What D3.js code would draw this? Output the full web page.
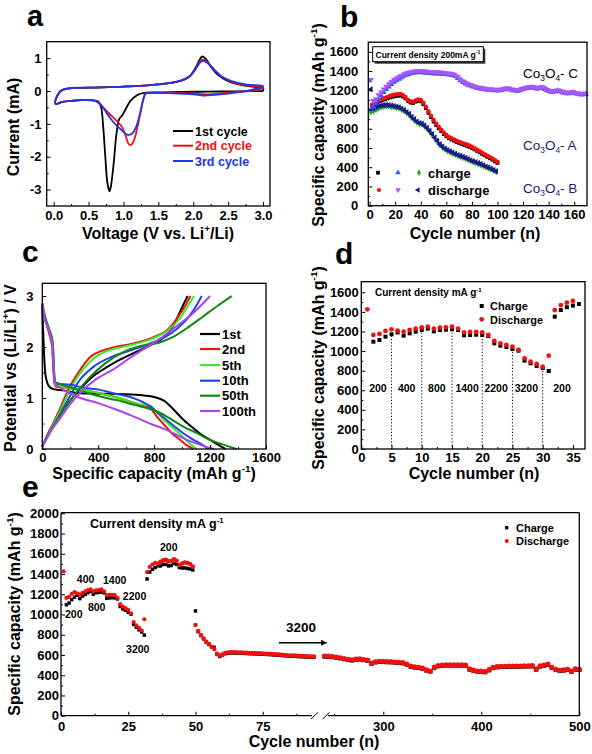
<!DOCTYPE html>
<html><head><meta charset="utf-8">
<script src="https://cdn.jsdelivr.net/npm/d3@7"></script>
<style>
body{margin:0;background:#fff}
svg{display:block;font-family:"Liberation Sans",Arial,Helvetica,sans-serif}
</style></head><body>
<svg id="c" width="592" height="754"></svg>
<script>
// ---------------- DATA ----------------
// Panel a: CV curves [V, I(mA)]
const aCycle1 = [[3.0,0.0],[2.6,-0.01],[2.2,-0.02],[1.8,-0.03],[1.5,-0.04],[1.3,-0.06],[1.2,-0.12],[1.1,-0.3],[1.02,-0.6],[0.98,-0.75],[0.94,-0.85],[0.9,-1.3],[0.86,-2.2],[0.82,-2.9],[0.8,-3.05],[0.77,-2.8],[0.74,-2.0],[0.71,-1.1],[0.68,-0.5],[0.64,-0.32],[0.55,-0.28],[0.4,-0.28],[0.25,-0.3],[0.12,-0.33],[0.03,-0.4],[0.02,-0.35],[0.05,-0.15],[0.1,0.0],[0.2,0.07],[0.5,0.1],[1.0,0.13],[1.5,0.2],[1.8,0.3],[1.95,0.45],[2.03,0.7],[2.1,0.98],[2.13,1.05],[2.18,0.98],[2.25,0.75],[2.35,0.5],[2.5,0.3],[2.7,0.18],[2.9,0.12],[3.0,0.1],[3.0,0.0]];
const aCycle2 = [[3.0,0.08],[2.8,0.0],[2.5,-0.05],[2.2,-0.1],[2.0,-0.08],[1.7,-0.06],[1.4,-0.05],[1.32,-0.06],[1.29,-0.2],[1.25,-0.6],[1.2,-1.1],[1.15,-1.5],[1.1,-1.65],[1.07,-1.6],[1.03,-1.35],[0.98,-1.1],[0.9,-0.9],[0.8,-0.7],[0.72,-0.52],[0.66,-0.38],[0.6,-0.3],[0.4,-0.28],[0.25,-0.3],[0.12,-0.33],[0.03,-0.4],[0.02,-0.35],[0.05,-0.15],[0.1,0.0],[0.2,0.07],[0.5,0.1],[1.0,0.13],[1.5,0.2],[1.8,0.3],[1.95,0.45],[2.03,0.68],[2.1,0.9],[2.14,0.95],[2.2,0.88],[2.3,0.65],[2.4,0.45],[2.55,0.28],[2.75,0.17],[3.0,0.12],[3.0,0.08]];
const aCycle3 = [[3.0,0.12],[2.8,0.02],[2.5,-0.08],[2.3,-0.12],[2.15,-0.14],[2.0,-0.1],[1.7,-0.07],[1.4,-0.06],[1.32,-0.08],[1.28,-0.3],[1.23,-0.75],[1.18,-1.1],[1.12,-1.3],[1.05,-1.33],[0.98,-1.2],[0.9,-1.05],[0.8,-0.8],[0.72,-0.55],[0.65,-0.38],[0.6,-0.3],[0.4,-0.28],[0.25,-0.3],[0.12,-0.33],[0.03,-0.4],[0.02,-0.35],[0.05,-0.15],[0.1,0.0],[0.2,0.08],[0.5,0.1],[1.0,0.13],[1.5,0.2],[1.8,0.3],[1.95,0.45],[2.03,0.65],[2.1,0.87],[2.14,0.92],[2.2,0.86],[2.3,0.65],[2.4,0.45],[2.55,0.3],[2.75,0.2],[3.0,0.15],[3.0,0.12]];
const aLegend = ["1st cycle","2nd cycle","3rd cycle"];

// Panel b: cycling of three samples
const bCyclesAB_A = d3.range(2, 101, 2);
const bA_discharge = [1050,1070,1085,1100,1110,1120,1130,1140,1150,1155,1160,1162,1150,1130,1100,1085,1080,1095,1105,1100,1070,1030,980,935,890,855,820,790,760,735,715,700,688,675,665,655,645,635,625,613,597,582,567,550,535,520,505,490,472,457];
const bA_charge = [1040,1060,1075,1088,1095,1105,1115,1125,1132,1138,1142,1145,1135,1115,1088,1072,1068,1082,1090,1085,1055,1015,965,920,875,840,805,775,745,722,702,688,676,663,652,642,632,622,612,600,585,570,555,538,523,508,493,478,460,445];
const bCycles_B = d3.range(1, 100, 2);
const bB_charge = [975,985,1000,1015,1025,1030,1035,1035,1030,1025,1020,1015,1000,985,965,945,915,890,865,850,845,825,800,770,735,700,665,630,605,585,570,555,543,532,520,510,500,490,478,465,455,445,435,425,412,400,390,378,365,352];
const bB_discharge = [1210,1010,1025,1035,1042,1046,1048,1046,1042,1036,1030,1024,1010,995,975,955,925,900,875,860,855,835,810,780,745,710,675,640,615,595,580,565,552,540,528,518,508,498,486,473,463,453,443,432,420,408,397,385,372,358];
const bCycles_C = d3.range(1, 170, 2);
const bC_discharge = [1310,1090,1110,1150,1180,1210,1240,1265,1290,1310,1325,1340,1355,1370,1380,1388,1393,1398,1400,1402,1400,1398,1395,1393,1390,1390,1388,1388,1385,1380,1378,1375,1370,1360,1340,1315,1295,1280,1265,1255,1245,1238,1230,1225,1220,1215,1212,1210,1208,1205,1205,1210,1215,1220,1218,1210,1205,1200,1205,1215,1225,1230,1235,1238,1232,1225,1230,1235,1220,1205,1195,1190,1195,1200,1195,1185,1180,1175,1180,1185,1175,1170,1165,1165,1168];
const bC_charge = [1000,1030,1065,1105,1145,1180,1210,1238,1262,1285,1302,1318,1334,1350,1362,1370,1377,1382,1385,1387,1385,1383,1380,1378,1375,1375,1373,1373,1370,1366,1364,1361,1356,1346,1326,1303,1284,1269,1255,1246,1236,1230,1222,1217,1212,1207,1204,1202,1200,1197,1197,1202,1207,1212,1210,1202,1197,1192,1197,1207,1217,1222,1227,1230,1224,1217,1222,1227,1212,1197,1187,1182,1187,1192,1187,1177,1172,1167,1172,1177,1167,1162,1157,1157,1160];

// Panel c: charge/discharge profiles [capacity, V]
const cNames = ["1st","2nd","5th","10th","50th","100th"];
const cDis = [
 [[0,2.85],[3,2.5],[7,2.25],[12,1.9],[19,1.55],[30,1.35],[43,1.25],[60,1.2],[90,1.17],[150,1.15],[250,1.1],[400,1.085],[550,1.08],[700,1.06],[800,1.02],[870,0.95],[930,0.8],[1000,0.6],[1070,0.43],[1130,0.3],[1200,0.18],[1260,0.08],[1310,0.0]],
 [[0,2.85],[20,2.55],[50,2.25],[70,2.0],[78,1.6],[85,1.3],[100,1.22],[200,1.2],[400,1.1],[550,1.0],[700,0.86],[770,0.8],[830,0.6],[880,0.45],[930,0.3],[985,0.18],[1030,0.08],[1080,0.0]],
 [[0,2.85],[20,2.58],[50,2.3],[72,2.05],[80,1.6],[88,1.3],[100,1.24],[200,1.2],[400,1.1],[550,1.0],[700,0.88],[770,0.85],[850,0.62],[920,0.45],[990,0.28],[1050,0.12],[1105,0.0]],
 [[0,2.8],[20,2.55],[50,2.3],[75,2.05],[82,1.6],[90,1.32],[100,1.28],[200,1.26],[300,1.2],[412,1.16],[500,1.1],[651,1.0],[770,0.84],[830,0.7],[889,0.57],[950,0.43],[1008,0.31],[1070,0.2],[1128,0.11],[1190,0.0]],
 [[0,2.85],[20,2.6],[50,2.35],[75,2.1],[83,1.6],[92,1.32],[120,1.28],[174,1.23],[300,1.12],[412,1.03],[530,0.96],[651,0.87],[818,0.74],[900,0.62],[1008,0.44],[1100,0.32],[1175,0.21],[1280,0.1],[1390,0.0]],
 [[0,2.85],[20,2.55],[50,2.3],[72,2.05],[78,1.7],[85,1.4],[95,1.28],[130,1.2],[245,1.03],[400,0.9],[532,0.77],[650,0.64],[770,0.5],[889,0.375],[1032,0.18],[1130,0.08],[1187,0.03],[1230,0.0]]
];
const cChg = [
 [[0,0.05],[55,0.38],[120,0.65],[174,0.86],[230,1.05],[293,1.24],[350,1.4],[412,1.52],[532,1.72],[651,1.88],[770,2.03],[850,2.15],[910,2.3],[961,2.55],[1000,2.78],[1030,2.95],[1040,3.0]],
 [[0,0.05],[60,0.4],[115,0.72],[198,1.23],[270,1.55],[341,1.8],[420,1.92],[508,1.99],[650,2.07],[800,2.2],[900,2.35],[960,2.55],[1020,2.8],[1060,3.0]],
 [[0,0.05],[60,0.38],[120,0.7],[205,1.2],[280,1.52],[360,1.76],[440,1.9],[520,1.97],[650,2.05],[800,2.18],[900,2.33],[980,2.55],[1040,2.8],[1085,3.0]],
 [[0,0.05],[70,0.4],[150,0.8],[270,1.36],[370,1.62],[508,1.82],[650,1.95],[780,2.08],[880,2.2],[960,2.35],[1050,2.6],[1110,2.85],[1140,3.0]],
 [[0,0.05],[80,0.45],[200,0.95],[330,1.38],[450,1.68],[580,1.9],[700,2.02],[850,2.1],[950,2.22],[1050,2.4],[1150,2.6],[1260,2.82],[1355,3.0]],
 [[0,0.05],[60,0.35],[127,0.6],[200,0.88],[270,1.1],[380,1.36],[508,1.56],[650,1.83],[818,2.12],[900,2.28],[980,2.45],[1060,2.62],[1130,2.8],[1200,3.0]]
];

// Panel d: rate test
const dChargeCycles = d3.range(2, 37);
const dCharge = [1096,1113,1147,1171,1190,1157,1181,1198,1215,1229,1201,1215,1218,1222,1215,1161,1164,1167,1164,1154,1079,1055,1042,1021,1004,902,875,848,827,796,1351,1419,1447,1464,1481];
const dDischargeCycles = d3.range(1, 36);
const dDischarge = [1426,1164,1174,1205,1222,1208,1198,1215,1229,1242,1249,1229,1239,1242,1249,1229,1191,1195,1195,1191,1164,1103,1079,1062,1045,1011,926,892,868,841,953,1419,1470,1494,1511];
const dDividerCycles = [5,10,15,20,25,30];
const dDividerTop = [1150,1200,1215,1155,1010,810];
const dRateLabels = ["200","400","800","1400","2200","3200","200"];
const dRateX = [2.75,7.5,12.5,17.5,22.3,27.3,33.2];

// Panel e: long-term cycling (first part reuses rate test d)
const eDisCyclesA = d3.range(36, 95);
const eDischargeA = [1505,1520,1535,1540,1525,1530,1545,1530,1490,1505,1515,1510,1500,1475,896,837,797,764,731,708,682,660,612,595,605,620,625,627,627,626,625,624,623,622,620,619,618,617,616,614,613,612,610,608,606,604,602,600,598,596,595,594,592,590,589,588,587,586,585];
const eChgCyclesA = d3.range(37, 95);
const eChargeA = [1480,1495,1495,1480,1485,1505,1495,1465,1460,1460,1455,1450,1440,1035,830,792,760,728,704,679,675,605,585,600,612,618,620,620,619,618,617,616,615,613,612,611,610,609,607,606,605,603,601,599,597,595,593,591,589,588,587,585,583,582,581,580,579,578];
const eCyclesB = d3.range(240, 501, 4);
const eDischargeB = [590,588,585,580,573,565,556,552,560,562,555,550,520,533,538,537,535,534,530,527,524,510,490,482,478,470,452,442,480,495,500,502,502,502,502,502,500,462,450,442,440,436,455,478,485,487,488,490,490,491,491,492,493,494,462,492,500,510,478,458,448,452,458,440,462,458];
const eChargeB = [584,582,579,574,567,559,550,546,554,556,549,544,514,527,532,531,529,528,524,521,518,504,484,476,472,464,446,436,474,489,494,496,496,496,496,496,494,456,444,436,434,430,449,472,479,481,482,484,484,485,485,486,487,488,456,486,494,504,472,452,442,446,452,434,456,452];
const eRateLabels = ["200","400","800","1400","2200","3200","200"];
const eRateX = [1.5,5.9,10,15.6,23,24.2,36.8];
const eRateY = [962,1311,1035,1301,1143,620,1627];

// ---------------- DRAWING ----------------
const svg = d3.select('#c');
const FF = '"Liberation Sans", Arial, Helvetica, sans-serif';

function rich(t, parts, fs) {
  let cur = 0;
  parts.forEach(([s, k]) => {
    const target = k === 'sup' ? -fs * 0.42 : k === 'sub' ? fs * 0.25 : 0;
    const ts = t.append('tspan').text(s);
    if (target - cur !== 0) ts.attr('dy', target - cur);
    if (k) ts.attr('font-size', fs * 0.62);
    cur = target;
  });
}
function txt(x, y, parts, o = {}) {
  const fs = o.size || 13;
  const t = svg.append('text').attr('x', x).attr('y', y)
    .attr('font-size', fs).attr('font-weight', o.weight || 'bold')
    .attr('fill', o.fill || '#000').attr('text-anchor', o.anchor || 'start');
  if (o.rotate) t.attr('transform', `rotate(-90,${x},${y})`);
  rich(t, typeof parts === 'string' ? [[parts]] : parts, fs);
  return t;
}
function frame(x0, x1, y0, y1) {
  svg.append('rect').attr('x', x0).attr('y', y0).attr('width', x1 - x0).attr('height', y1 - y0)
    .attr('fill', 'none').attr('stroke', '#000').attr('stroke-width', 1.3);
}
function axis(kind, scale, pos, major, minor, fmt, pad) {
  const gen = kind === 'b' ? d3.axisBottom : d3.axisLeft;
  const tr = kind === 'b' ? `translate(0,${pos})` : `translate(${pos},0)`;
  const g = svg.append('g').attr('transform', tr);
  g.call(gen(scale).tickValues(major).tickFormat(fmt).tickSizeInner(-4).tickSizeOuter(0).tickPadding(pad));
  g.select('.domain').remove();
  g.attr('font-family', FF).attr('font-size', 13).attr('font-weight', 'bold');
  if (minor) {
    const m = svg.append('g').attr('transform', tr);
    m.call(gen(scale).tickValues(minor).tickFormat(() => '').tickSizeInner(-2).tickSizeOuter(0));
    m.select('.domain').remove();
  }
}
const sym = (type, size) => d3.symbol().type(type).size(size)();
function scatter(xs, ys, xS, yS, type, size, color, rot = 0) {
  svg.append('g').selectAll('path').data(xs.map((x, i) => [x, ys[i]])).join('path')
    .attr('d', sym(type, size))
    .attr('transform', d => `translate(${xS(d[0])},${yS(d[1])}) rotate(${rot})`)
    .attr('fill', color);
}
const fmtPlain = d => String(d);

// ---- Panel a ----
{
  const x = d3.scaleLinear([-0.1, 3.1], [46.7, 270]);
  const y = d3.scaleLinear([-3.5, 1.5], [206, 41.7]);
  const line = d3.line().x(d => x(d[0])).y(d => y(d[1])).curve(d3.curveCatmullRom.alpha(0.5));
  const cols = ['#000000', '#ee1111', '#2233ee'];
  [aCycle1, aCycle2, aCycle3].forEach((c, i) =>
    svg.append('path').attr('d', line(c)).attr('fill', 'none').attr('stroke', cols[i]).attr('stroke-width', 1.8));
  frame(46.7, 270, 41.7, 206);
  axis('b', x, 206, [0, 0.5, 1, 1.5, 2, 2.5, 3], [0.25, 0.75, 1.25, 1.75, 2.25, 2.75], d3.format('.1f'), 4.3);
  axis('l', y, 46.7, [-3, -2, -1, 0, 1], [-2.5, -1.5, -0.5, 0.5], fmtPlain, 5.2);
  aLegend.forEach((s, i) => {
    const yy = [131, 145.7, 161][i];
    svg.append('line').attr('x1', 173).attr('x2', 193).attr('y1', yy).attr('y2', yy).attr('stroke', cols[i]).attr('stroke-width', 2);
    txt(195, yy + 4.5, s, { size: 12.5, fill: cols[i] });
  });
  txt(27, 26, 'a', { size: 29 });
  txt(18.5, 127, 'Current (mA)', { size: 16, rotate: true, anchor: 'middle' });
  txt(158, 238.5, [['Voltage (V vs. Li'], ['+', 'sup'], ['/Li)']], { size: 16, anchor: 'middle' });
}

// ---- Panel b ----
{
  const x = d3.scaleLinear([-1, 170], [368.3, 587]);
  const y = d3.scaleLinear([0, 1700], [205.7, 42.2]);
  scatter(bCyclesAB_A, bA_charge, x, y, d3.symbolSquare, 14, '#000');
  scatter(bCyclesAB_A, bA_discharge, x, y, d3.symbolCircle, 16, '#ee1111');
  scatter(bCycles_B, bB_charge, x, y, d3.symbolDiamond, 15, '#22aa22');
  scatter(bCycles_B, bB_discharge, x, y, d3.symbolTriangle, 16, '#1a1a8c', -90);
  scatter(bCycles_C, bC_charge, x, y, d3.symbolTriangle, 16, '#3355ff');
  scatter(bCycles_C, bC_discharge, x, y, d3.symbolTriangle, 16, '#aa55ff', 180);
  frame(368.3, 587, 42.2, 205.7);
  axis('b', x, 205.7, d3.range(0, 161, 20), d3.range(10, 170, 20), fmtPlain, 3.6);
  axis('l', y, 368.3, d3.range(0, 1601, 200), d3.range(100, 1700, 200), fmtPlain, 10);
  // legend box
  svg.append('rect').attr('x', 374.7).attr('y', 48.7).attr('width', 110.6).attr('height', 15).attr('fill', '#333');
  svg.append('rect').attr('x', 372.7).attr('y', 46.7).attr('width', 110.6).attr('height', 15).attr('fill', '#fff').attr('stroke', '#000').attr('stroke-width', 1);
  txt(428, 57.5, [['Current density 200mA g'], ['-1', 'sup']], { size: 8.5, anchor: 'middle' });
  // symbol legend
  const L = (px, py, type, col, rot) => svg.append('path').attr('d', sym(type, 14)).attr('transform', `translate(${px},${py}) rotate(${rot})`).attr('fill', col);
  L(378, 172.7, d3.symbolSquare, '#000', 0); L(398, 172.7, d3.symbolTriangle, '#3355ff', 0); L(419, 172.7, d3.symbolDiamond, '#22aa22', 0);
  L(379, 190, d3.symbolCircle, '#ee1111', 0); L(398, 190, d3.symbolTriangle, '#aa55ff', 180); L(418, 190, d3.symbolTriangle, '#1a1a8c', -90);
  txt(428, 177.5, 'charge', { size: 13 });
  txt(428, 195, 'discharge', { size: 13 });
  const co = s => [['Co'], ['3', 'sub'], ['O'], ['4', 'sub'], ['- ' + s]];
  txt(523, 77.5, co('C'), { size: 13.5, weight: 'normal' });
  txt(523, 150, co('A'), { size: 13.5, weight: 'normal', fill: '#1a1a6e' });
  txt(523, 193, co('B'), { size: 13.5, weight: 'normal', fill: '#1a1a6e' });
  txt(340, 27, 'b', { size: 30 });
  txt(323.5, 125, [['Specific capacity (mAh g'], ['-1', 'sup'], [')']], { size: 16, rotate: true, anchor: 'middle' });
  txt(475, 238.5, 'Cycle number (n)', { size: 16, anchor: 'middle' });
}

// ---- Panel c ----
{
  const x = d3.scaleLinear([0, 1600], [42.3, 266]);
  const y = d3.scaleLinear([0, 3.25], [449, 283.3]);
  const line = d3.line().x(d => x(d[0])).y(d => y(d[1])).curve(d3.curveMonotoneX);
  const cols = ['#000000', '#ee1111', '#33ee22', '#2244ee', '#118811', '#aa44ee'];
  cNames.forEach((n, i) => {
    svg.append('path').attr('d', line(cDis[i])).attr('fill', 'none').attr('stroke', cols[i]).attr('stroke-width', 2);
    svg.append('path').attr('d', line(cChg[i])).attr('fill', 'none').attr('stroke', cols[i]).attr('stroke-width', 2);
  });
  frame(42.3, 266, 283.3, 449);
  axis('b', x, 449, [0, 400, 800, 1200, 1600], [200, 600, 1000, 1400], fmtPlain, 3.5);
  axis('l', y, 42.3, [0, 1, 2, 3], [0.5, 1.5, 2.5], fmtPlain, 8.8);
  const ly = [334, 349, 365, 380.7, 395.7, 411];
  cNames.forEach((n, i) => {
    svg.append('line').attr('x1', 200).attr('x2', 220).attr('y1', ly[i]).attr('y2', ly[i]).attr('stroke', cols[i]).attr('stroke-width', 2.2);
    txt(222, ly[i] + 4.6, n, { size: 13 });
  });
  txt(22, 262, 'c', { size: 30 });
  txt(15.5, 368, [['Potential vs (Li/Li'], ['+', 'sup'], [') / V']], { size: 16, rotate: true, anchor: 'middle' });
  txt(154, 479, [['Specific capacity (mAh g'], ['-1', 'sup'], [')']], { size: 16, anchor: 'middle' });
}

// ---- Panel d ----
{
  const x = d3.scaleLinear([0, 37], [361.3, 585]);
  const y = d3.scaleLinear([0, 1700], [449, 282.5]);
  dDividerCycles.forEach((c, i) =>
    svg.append('line').attr('x1', x(c)).attr('x2', x(c)).attr('y1', y(0)).attr('y2', y(dDividerTop[i]))
      .attr('stroke', '#000').attr('stroke-width', 1).attr('stroke-dasharray', '1.2,2'));
  scatter(dChargeCycles, dCharge, x, y, d3.symbolSquare, 16, '#000');
  scatter(dDischargeCycles, dDischarge, x, y, d3.symbolCircle, 18, '#ee1111');
  frame(361.3, 585, 281.7, 449);
  axis('b', x, 449, d3.range(0, 36, 5), d3.range(2.5, 37, 5), fmtPlain, 3.5);
  axis('l', y, 361.3, d3.range(0, 1601, 200), d3.range(100, 1700, 200), fmtPlain, 2.5);
  dRateLabels.forEach((s, i) => txt(x(dRateX[i]), y(582), s, { size: 10.5, anchor: 'middle' }));
  txt(375, 296, [['Current density mA g'], ['-1', 'sup']], { size: 10 });
  svg.append('path').attr('d', sym(d3.symbolSquare, 16)).attr('transform', 'translate(481.7,306)').attr('fill', '#000');
  svg.append('path').attr('d', sym(d3.symbolCircle, 18)).attr('transform', 'translate(481.7,319.3)').attr('fill', '#ee1111');
  txt(490, 310, 'Charge', { size: 11 });
  txt(490, 323.5, 'Discharge', { size: 11 });
  txt(335, 264, 'd', { size: 30 });
  txt(323.5, 368, [['Specific capacity (mAh g'], ['-1', 'sup'], [')']], { size: 16, rotate: true, anchor: 'middle' });
  txt(474, 479, 'Cycle number (n)', { size: 16, anchor: 'middle' });
}

// ---- Panel e ----
{
  const x1 = d3.scaleLinear([0, 100], [61, 330]);
  const x2 = d3.scaleLinear([300, 500], [383.3, 579.3]);
  const y = d3.scaleLinear([0, 2000], [715.7, 513.3]);
  // charge first, discharge on top
  scatter(dChargeCycles, dCharge, x1, y, d3.symbolSquare, 12, '#000');
  scatter(eChgCyclesA, eChargeA, x1, y, d3.symbolSquare, 12, '#000');
  scatter(eCyclesB, eChargeB, x2, y, d3.symbolSquare, 18, '#000');
  scatter(dDischargeCycles, dDischarge, x1, y, d3.symbolCircle, 14, '#ee1111');
  scatter(eDisCyclesA, eDischargeA, x1, y, d3.symbolCircle, 16, '#ee1111');
  scatter(eCyclesB, eDischargeB, x2, y, d3.symbolCircle, 21, '#ee1111');
  // frame with broken bottom axis
  const F = (a, b, c, d) => svg.append('line').attr('x1', a).attr('y1', b).attr('x2', c).attr('y2', d).attr('stroke', '#000').attr('stroke-width', 1.3);
  F(61, 512.7, 579.3, 512.7); F(61, 512.7, 61, 715.7); F(579.3, 512.7, 579.3, 715.7);
  F(61, 715.7, 312, 715.7); F(328, 715.7, 579.3, 715.7);
  [314.5, 326].forEach(bx => svg.append('line').attr('x1', bx - 3.5).attr('y1', 719).attr('x2', bx + 3.5).attr('y2', 712.5).attr('stroke', '#000').attr('stroke-width', 1));
  axis('b', x1, 715.7, [0, 25, 50, 75], [12.5, 37.5, 62.5, 87.5], fmtPlain, 5.6);
  axis('b', x2, 715.7, [300, 400, 500], [250, 350, 450], fmtPlain, 5.6);
  axis('l', y, 61, d3.range(0, 2001, 200), d3.range(100, 2000, 200), fmtPlain, 2);
  eRateLabels.forEach((s, i) => txt(x1(eRateX[i]), y(eRateY[i]), s, { size: 10.5 }));
  txt(90, 528, [['Current density mA g'], ['-1', 'sup']], { size: 12.5 });
  // 3200 arrow
  txt(x1(83.6), y(830), '3200', { size: 13.5 });
  svg.append('defs').append('marker').attr('id', 'ah').attr('viewBox', '0 0 10 10').attr('refX', 9).attr('refY', 5)
    .attr('markerWidth', 9).attr('markerHeight', 6).attr('markerUnits', 'userSpaceOnUse').attr('orient', 'auto')
    .append('path').attr('d', 'M0,0L10,5L0,10z').attr('fill', '#000');
  svg.append('line').attr('x1', x1(81)).attr('x2', x2(242)).attr('y1', y(721)).attr('y2', y(721))
    .attr('stroke', '#000').attr('stroke-width', 1.5).attr('marker-end', 'url(#ah)');
  svg.append('path').attr('d', sym(d3.symbolSquare, 11)).attr('transform', 'translate(506.7,527.7)').attr('fill', '#000');
  svg.append('path').attr('d', sym(d3.symbolCircle, 13)).attr('transform', 'translate(506.7,541)').attr('fill', '#ee1111');
  txt(516, 531.7, 'Charge', { size: 11 });
  txt(516, 545, 'Discharge', { size: 11 });
  txt(22, 497, 'e', { size: 30 });
  txt(20, 614, [['Specific capacity (mAh g'], ['-1', 'sup'], [')']], { size: 16, rotate: true, anchor: 'middle' });
  txt(314, 747, 'Cycle number (n)', { size: 16, anchor: 'middle' });
}
</script></body></html>
